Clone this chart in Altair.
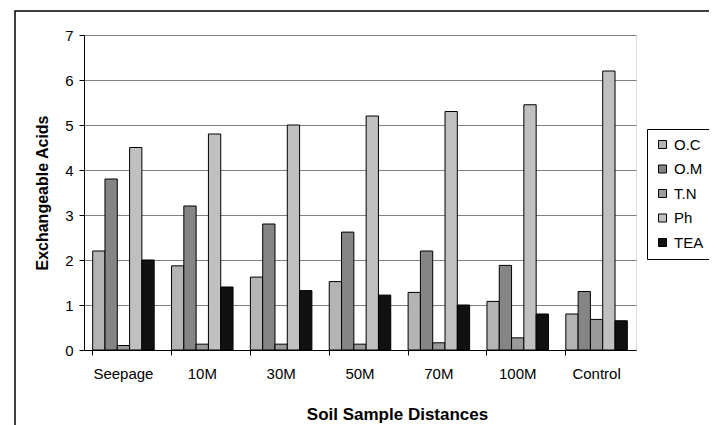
import altair as alt
import pandas as pd

categories = ["Seepage", "10M", "30M", "50M", "70M", "100M", "Control"]
series = ["O.C", "O.M", "T.N", "Ph", "TEA"]
oc = [2.2, 1.87, 1.62, 1.52, 1.28, 1.08, 0.8]
om = [3.8, 3.2, 2.8, 2.62, 2.2, 1.88, 1.3]
tn = [0.1, 0.13, 0.13, 0.13, 0.16, 0.27, 0.68]
ph = [4.5, 4.8, 5.0, 5.2, 5.3, 5.45, 6.2]
tea = [2.0, 1.4, 1.32, 1.22, 1.0, 0.8, 0.65]
colors = ["#b4b4b4", "#858585", "#9a9a9a", "#c0c0c0", "#111111"]

rows = []
for s, vals in zip(series, [oc, om, tn, ph, tea]):
    for c, v in zip(categories, vals):
        rows.append({"cat": c, "series": s, "value": v})
df = pd.DataFrame(rows)

FONT = "Liberation Sans"

bars = alt.Chart(df).mark_bar(stroke="black", strokeWidth=1).encode(
    x=alt.X("cat:N", sort=categories,
            scale=alt.Scale(paddingInner=0.22, paddingOuter=0.11),
            axis=alt.Axis(title="Soil Sample Distances", labelAngle=0, bandPosition=0,
                          ticks=True, tickSize=5, tickColor="black", domainColor="black",
                          labelPadding=11, labelFontSize=15,
                          titleFontSize=17, titleFontWeight="bold", labelColor="black",
                          titleColor="black", grid=False, titleX=313, titleY=69,
                          titleAlign="center", titleBaseline="alphabetic")),
    xOffset=alt.XOffset("series:N", sort=series, scale=alt.Scale(paddingInner=0, paddingOuter=0)),
    y=alt.Y("value:Q", scale=alt.Scale(domain=[0, 7], nice=False),
            axis=alt.Axis(title="Exchangeable Acids", values=[0, 1, 2, 3, 4, 5, 6, 7],
                          tickSize=5, tickColor="black", domainColor="black",
                          labelPadding=6, titlePadding=14, labelFontSize=15,
                          titleFontSize=16, titleFontWeight="bold", labelColor="black",
                          titleColor="black", grid=True, gridColor="#808080",
                          gridWidth=1, gridOpacity=1)),
    color=alt.Color("series:N", sort=series,
                    scale=alt.Scale(domain=series, range=colors),
                    legend=alt.Legend(title=None, orient="none", legendX=563, legendY=94,
                                      symbolType="square", symbolSize=64,
                                      symbolStrokeColor="black", symbolStrokeWidth=1,
                                      labelFontSize=15, labelColor="black",
                                      rowPadding=8.5, padding=8, strokeColor="black",
                                      fillColor="white", labelOffset=4)),
)

frame = alt.Chart(pd.DataFrame({"a": [0]})).mark_rect(
    fill=None, stroke="black", strokeWidth=1.5, clip=False
).encode(
    x=alt.value(-69), x2=alt.value(628), y=alt.value(-24), y2=alt.value(420)
)

chart = alt.layer(frame, bars).properties(
    width=552, height=315,
    autosize=alt.AutoSizeParams(type="none"),
    padding={"left": 76, "top": 27, "right": 73, "bottom": 75},
).configure_view(stroke="#808080", strokeWidth=1).configure(
    font=FONT, background="white"
)

chart.save("out.html", embed_options={"renderer": "svg", "actions": False})
